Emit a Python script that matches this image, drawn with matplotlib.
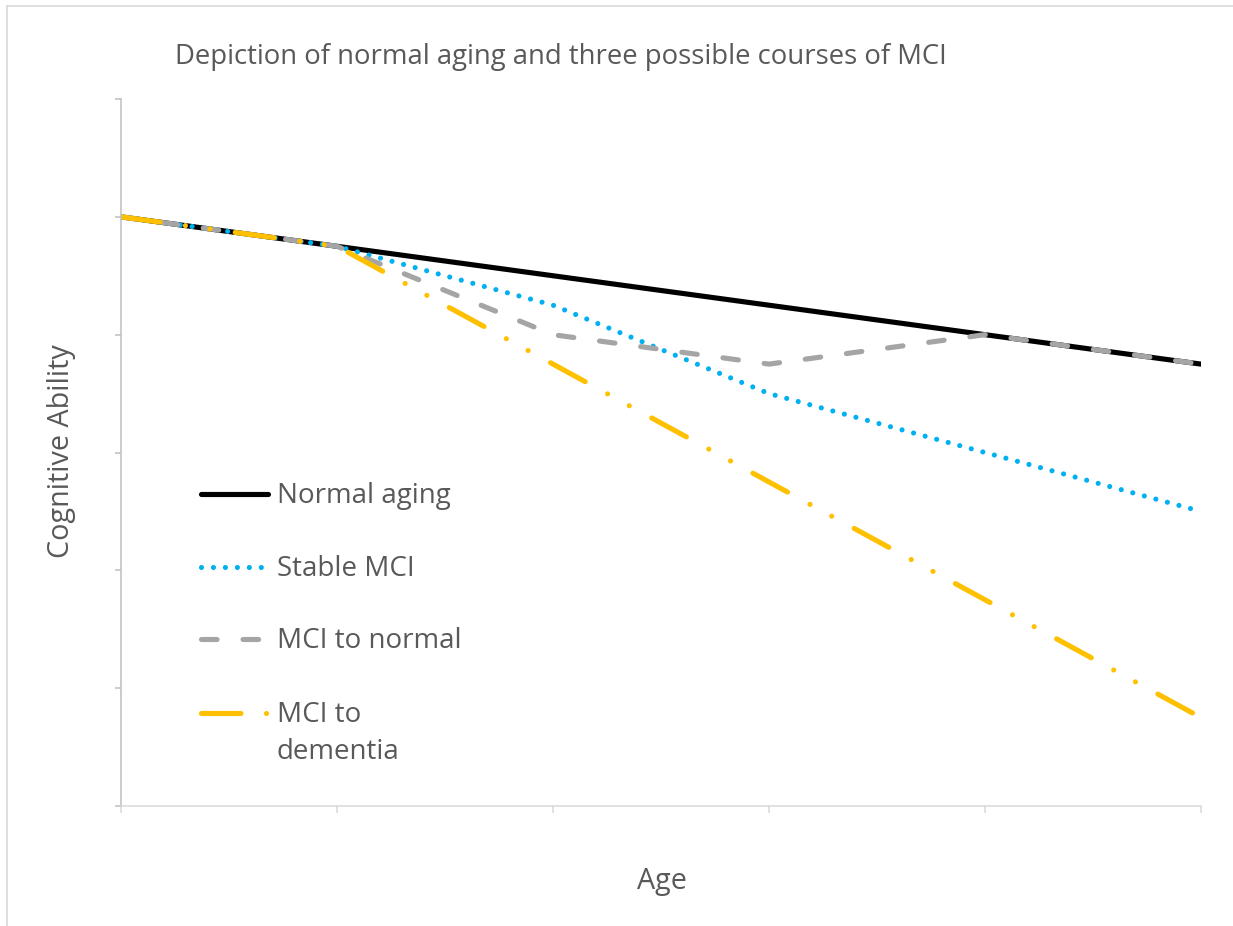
import matplotlib
matplotlib.use("Agg")
import matplotlib.pyplot as plt
from matplotlib.lines import Line2D

plt.rcParams["font.family"] = ["Open Sans", "DejaVu Sans"]
plt.rcParams["lines.scale_dashes"] = False

# ---- data -------------------------------------------------------------
ages = [0, 1, 2, 3, 4, 5]
normal_aging = [5.0, 4.75, 4.5, 4.25, 4.0, 3.75]
stable_mci = [5.0, 4.75, 4.25, 3.5, 3.0, 2.5]
mci_to_normal = [5.0, 4.75, 4.0, 3.75, 4.0, 3.75]
mci_to_dementia = [5.0, 4.75, 3.75, 2.75, 1.75, 0.75]

series_labels = ["Normal aging", "Stable MCI", "MCI to normal", "MCI to\ndementia"]
title_text = "Depiction of normal aging and three possible courses of MCI"
x_label = "Age"
y_label = "Cognitive Ability"

# ---- styles -----------------------------------------------------------
W, H, DPI = 1233, 926, 100
LW = 3.7
TEXT = "#595959"
styles = [
    dict(color="#000000", linestyle="-", solid_capstyle="round"),
    dict(color="#00B0F0", linestyle=(0, (0.01, 8.6)), dash_capstyle="round"),
    dict(color="#A5A5A5", linestyle=(0, (11.2, 18.7)), dash_capstyle="round"),
    dict(color="#FFC000", linestyle=(0, (28.4, 18.4, 0.01, 17.8, 0.01, 18.4)),
         dash_capstyle="round"),
]

fig = plt.figure(figsize=(W / DPI, H / DPI), dpi=DPI)


def fx(px):
    return px / W


def fy(py):
    return 1 - py / H


# chart frame (top and left edges)
fig.add_artist(Line2D([fx(7), fx(7)], [fy(6), fy(H + 5)], color="#D9D9D9", lw=1.2))
fig.add_artist(Line2D([fx(7), fx(W + 5)], [fy(6), fy(6)], color="#D9D9D9", lw=1.2))

ax = fig.add_axes([fx(121), fy(806), fx(1201) - fx(121), fy(99) - fy(806)])
ax.set_xlim(0, 5)
ax.set_ylim(0, 6)

for vals, st in zip([normal_aging, stable_mci, mci_to_normal, mci_to_dementia], styles):
    ax.plot(ages, vals, lw=LW, **st)

ax.set_xticks(range(0, 6))
ax.set_yticks(range(0, 7))
ax.set_xticklabels([])
ax.set_yticklabels([])
ax.tick_params(axis="y", direction="out", length=4.5, width=1.1, color="#BFBFBF")
ax.tick_params(axis="x", direction="out", length=5, width=1.1, color="#D9D9D9")
for s in ["top", "right"]:
    ax.spines[s].set_visible(False)
ax.spines["left"].set_color("#BFBFBF")
ax.spines["left"].set_linewidth(1.1)
ax.spines["bottom"].set_color("#D9D9D9")
ax.spines["bottom"].set_linewidth(1.1)

# titles
fig.text(fx(561), fy(57), title_text, ha="center", va="center", fontsize=19.8, color=TEXT)
fig.text(fx(662), fy(882), x_label, ha="center", va="center", fontsize=20.7, color=TEXT)
fig.text(fx(62), fy(451), y_label, ha="center", va="center", rotation=90,
         fontsize=20.7, color=TEXT)

# legend
legend_y = [494, 567, 639, 713]
for lab, st, y in zip(series_labels, styles, legend_y):
    fig.add_artist(Line2D([fx(201), fx(268)], [fy(y), fy(y)], lw=LW, **st))
    first, *rest = lab.split("\n")
    fig.text(fx(277), fy(y + 2), first, ha="left", va="center", fontsize=20, color=TEXT)
    for i, extra in enumerate(rest, start=1):
        fig.text(fx(277), fy(y + 2 + 37 * i), extra, ha="left", va="center",
                 fontsize=20, color=TEXT)

fig.savefig("out.png", dpi=DPI, facecolor="white")
